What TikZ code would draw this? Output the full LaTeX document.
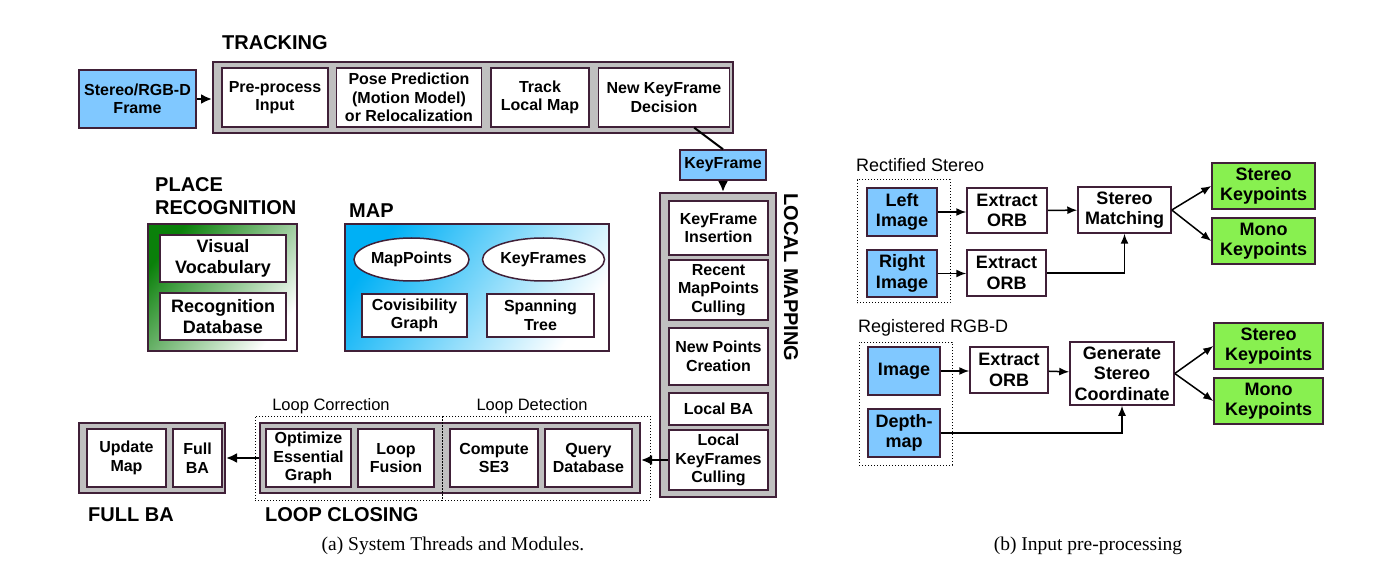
\documentclass[tikz,border=0pt]{standalone}
\usepackage{fontspec}
\setsansfont{Liberation Sans}
\newfontfamily\capfont{Liberation Serif}
\usepackage{tikz}
\usetikzlibrary{arrows.meta, shapes.geometric, positioning}
\definecolor{edge}{RGB}{64,32,56}
\definecolor{inblue}{RGB}{128,200,255}
\definecolor{kpgreen}{RGB}{136,240,80}
\definecolor{thgray}{RGB}{192,192,192}
\definecolor{mapblue}{RGB}{0,176,245}
\definecolor{prgreen}{RGB}{10,128,10}
\tikzset{
  wh/.style 2 args={minimum width=#1pt, minimum height=#2pt},
  blk/.style={draw=edge, line width=1.5pt, fill=white, align=center, inner sep=0pt,
    font=\sffamily\bfseries\fontsize{16}{18.5}\selectfont},
  bigblk/.style={blk, font=\sffamily\bfseries\fontsize{18}{20.5}\selectfont},
  thread/.style={draw=edge, line width=2pt, fill=thgray, inner sep=0pt},
  inbox/.style={bigblk, fill=inblue},
  kpbox/.style={bigblk, fill=kpgreen},
  grp/.style={draw, dotted, line width=1pt, inner sep=0pt},
  hdr/.style={font=\sffamily\bfseries\fontsize{20}{23}\selectfont, inner sep=0pt, align=left},
  lbl/.style={font=\sffamily\fontsize{16.5}{19}\selectfont, inner sep=0pt},
  arr/.style={-{Latex[length=11pt, width=10pt]}, line width=2.5pt},
  tarr/.style={-{Latex[length=10pt, width=8pt]}, line width=1.5pt},
}
\begin{document}
\begin{tikzpicture}[x=1pt, y=-1pt]
\fill[white] (0,0) rectangle (1377,564);
\useasboundingbox (0,0) rectangle (1377,564);

%% (a) system threads
\node[hdr, anchor=west] at (222,43) {TRACKING};
\node[thread, wh={520}{71}] (trk) at (473,97.5) {};
\node[blk, wh={106}{59}] (pre) at (275,97.5) {Pre-process\\Input};
\node[blk, wh={145}{59}, right=7pt of pre] (pose) {Pose Prediction\\(Motion Model)\\or Relocalization};
\node[blk, wh={98}{59}, right=8pt of pose] (track) {Track\\Local Map};
\node[blk, wh={131}{59}, right=8pt of track] (newkf) {New KeyFrame\\Decision};
\node[blk, fill=inblue, wh={117}{58}] (frame) at (137.5,99) {Stereo/RGB-D\\Frame};
\draw[arr] (frame.east) -- (frame.east -| trk.west);

\node[blk, fill=inblue, wh={86}{30}] (kf) at (723,165) {KeyFrame};
\draw[line width=2pt] (newkf.-45) -- (kf.north);

\node[thread, wh={116}{304}] (lm) at (718,345) {};
\draw[arr] (kf.south) -- (kf.south |- lm.north);
\node[blk, wh={99}{54}] (kfi) at (718.5,228) {KeyFrame\\Insertion};
\node[blk, wh={99}{60}] (rmc) at (718.5,290) {Recent\\MapPoints\\Culling};
\node[blk, wh={99}{57}] (npc) at (718.5,356.5) {New Points\\Creation};
\node[blk, wh={99}{32}] (lba) at (718.5,409) {Local BA};
\node[blk, wh={99}{60}] (lkc) at (718.5,460) {Local\\KeyFrames\\Culling};
\node[hdr, rotate=-90] at (791,277.5) {LOCAL MAPPING};

% place recognition
\node[hdr, anchor=north west] at (155,177) {PLACE\\RECOGNITION};
\node[draw=edge, line width=1.5pt, wh={149}{127}, top color=prgreen, bottom color=white,
  shading angle=50] (pr) at (222.5,287.5) {};
\node[bigblk, wh={126}{47}] (voc) at (223,258.5) {Visual\\Vocabulary};
\node[bigblk, wh={126}{47}] (rdb) at (223,316.5) {Recognition\\Database};

% map
\node[hdr, anchor=west] at (349,211) {MAP};
\node[draw=edge, line width=1.5pt, wh={264}{127}, top color=mapblue, bottom color=white,
  shading angle=55] (map) at (477,287.5) {};
\node[blk, ellipse, wh={115}{43}] (mp) at (411.5,259.5) {MapPoints};
\node[blk, ellipse, wh={115}{43}] (kfs) at (543.5,259.5) {KeyFrames};
\node[blk, wh={105}{43}] (cov) at (414.5,315.5) {Covisibility\\Graph};
\node[blk, wh={107}{43}] (span) at (540.5,315.5) {Spanning\\Tree};

% loop closing and full BA
\node[thread, wh={380}{70}] (lc) at (450,458) {};
\node[grp, wh={187}{84}] (lcorr) at (348.5,458) {};
\node[grp, wh={208}{84}] (ldet) at (546,458) {};
\node[lbl] at (331,406) {Loop Correction};
\node[lbl] at (532,406) {Loop Detection};
\node[blk, wh={85}{58}] (opt) at (308.5,458) {Optimize\\Essential\\Graph};
\node[blk, wh={76}{58}] (fus) at (396,458) {Loop\\Fusion};
\node[blk, wh={88}{58}] (se3) at (494,458) {Compute\\SE3};
\node[blk, wh={87}{58}] (qdb) at (588.5,458) {Query\\Database};
\node[thread, wh={146}{70}] (fba) at (152,458) {};
\node[blk, wh={79}{58}] (upd) at (126.5,458) {Update\\Map};
\node[blk, wh={49}{58}] (gba) at (197.5,458) {Full\\BA};
\draw[arr] (lkc.west) -- (lkc.west -| lc.east);
\draw[arr] (lc.west) -- (fba.east);
\node[hdr, anchor=west] at (88,515) {FULL BA};
\node[hdr, anchor=west] at (265,515) {LOOP CLOSING};
\node[font=\capfont\fontsize{19.5}{22}\selectfont] at (453,546) {(a) System Threads and Modules.};

%% (b) input pre-processing
\node[lbl, font=\sffamily\fontsize{18}{20}\selectfont, anchor=west] at (856,165) {Rectified Stereo};
\node[grp, wh={93}{123}] (rs) at (903.5,241.5) {};
\node[inbox, wh={70}{48}] (li) at (902,212) {Left\\Image};
\node[inbox, wh={70}{47}] (ri) at (902,273.5) {Right\\Image};
\node[bigblk, wh={80}{45}] (orb1) at (1007,210.5) {Extract\\ORB};
\node[bigblk, wh={79}{46}] (orb2) at (1006.5,273) {Extract\\ORB};
\node[bigblk, wh={93}{46}] (sm) at (1124.5,210) {Stereo\\Matching};
\node[kpbox, wh={103}{46}] (sk) at (1263.5,186) {Stereo\\Keypoints};
\node[kpbox, wh={103}{46}] (mk) at (1263.5,241) {Mono\\Keypoints};
\draw[tarr] (li.east) -- (li.east -| orb1.west);
\draw[tarr] (ri.east) -- (ri.east -| orb2.west);
\draw[tarr] (orb1) -- (sm);
\draw[tarr] (orb2.east) -| (sm.south);
\draw[tarr] (sm.east) -- (sk.west);
\draw[tarr] (sm.east) -- (mk.west);

\node[lbl, font=\sffamily\fontsize{18}{20}\selectfont, anchor=west] at (858,328) {Registered RGB-D};
\node[grp, wh={93}{123}] (rg) at (905.5,403.5) {};
\node[inbox, wh={72}{48}] (img) at (904,371) {Image};
\node[inbox, wh={72}{48}] (dm) at (904,433) {Depth-\\map};
\node[bigblk, wh={78}{46}] (orb3) at (1009,370) {Extract\\ORB};
\node[bigblk, wh={104}{63}] (gen) at (1122,373.5) {Generate\\Stereo\\Coordinate};
\node[kpbox, wh={109}{46}] (sk2) at (1268.5,346) {Stereo\\Keypoints};
\node[kpbox, wh={109}{46}] (mk2) at (1268.5,401) {Mono\\Keypoints};
\draw[tarr] (img.east) -- (img.east -| orb3.west);
\draw[tarr] (orb3) -- (gen);
\draw[tarr] (dm.east) -| (gen.south);
\draw[tarr] (gen.east) -- (sk2.west);
\draw[tarr] (gen.east) -- (mk2.west);
\node[font=\capfont\fontsize{19.5}{22}\selectfont] at (1088,546) {(b) Input pre-processing};
\end{tikzpicture}
\end{document}
